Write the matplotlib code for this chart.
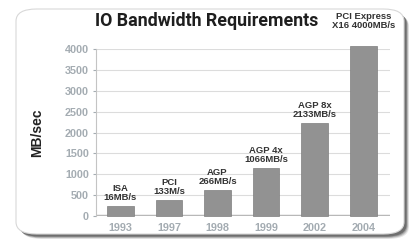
import matplotlib.pyplot as plt
from matplotlib.patches import FancyBboxPatch

# Data
years = ["1993", "1997", "1998", "1999", "2002", "2004"]
bar_heights = [240, 380, 620, 1150, 2220, 4080]
bar_labels = ["ISA\n16MB/s", "PCI\n133M/s", "AGP\n266MB/s",
              "AGP 4x\n1066MB/s", "AGP 8x\n2133MB/s", "PCI Express\nX16 4000MB/s"]
yticks = [0, 500, 1000, 1500, 2000, 2500, 3000, 3500, 4000]

W, H = 414, 243
fig = plt.figure(figsize=(W / 100, H / 100), dpi=100)
fig.patch.set_facecolor("white")

# card with soft shadow
for i, a in enumerate([0.10, 0.16, 0.24, 0.35]):
    off = 4 - i * 0.8
    sh = FancyBboxPatch((17 / W + off / W, 8 / H - off / H), 388 / W, 225 / H,
                        boxstyle="round,pad=0,rounding_size=0.05",
                        transform=fig.transFigure, facecolor="#1a1a1a",
                        edgecolor="none", alpha=a, zorder=0)
    fig.patches.append(sh)
card = FancyBboxPatch((16 / W, 9 / H), 388 / W, 225 / H,
                      boxstyle="round,pad=0,rounding_size=0.05",
                      transform=fig.transFigure, facecolor="white",
                      edgecolor="#d8d8d8", linewidth=0.8, zorder=1)
fig.patches.append(card)

ax = fig.add_axes([96 / W, 27 / H, 294 / W, 167 / H])
ax.set_facecolor("none")
ax.set_zorder(2)

x = list(range(len(years)))
ax.bar(x, bar_heights, width=0.55, color="#929292", edgecolor="#7e7e7e",
       linewidth=0.5, zorder=3, clip_on=False)

lab_font = ["Liberation Sans", "DejaVu Sans"]
for xi, h, lab in zip(x, bar_heights, bar_labels):
    dy = 11 if xi == len(years) - 1 else 3
    ax.annotate(lab, (xi, h), xytext=(0, dy), textcoords="offset points",
                ha="center", va="bottom", fontsize=6.8, fontweight="bold",
                color="#333333", linespacing=1.0, annotation_clip=False,
                family=lab_font)

ax.set_xlim(-0.5, 5.55)
ax.set_ylim(0, 4000)
ax.set_yticks(yticks)
ax.set_xticks(x)
ax.set_xticklabels(years)
ax.grid(axis="y", color="#dcdcdc", linewidth=0.8, zorder=1)
ax.axhline(0, color="#b8b8b8", linewidth=2.5, zorder=2)

for s in ["top", "right", "bottom"]:
    ax.spines[s].set_visible(False)
ax.spines["left"].set_color("#c4c4c4")
ax.tick_params(axis="y", colors="#a4acb2", labelsize=7.8, length=2, pad=3)
ax.tick_params(axis="x", colors="#a4acb2", labelsize=7.8, length=0, pad=5)
for t in ax.get_xticklabels() + ax.get_yticklabels():
    t.set_fontweight("bold")
    t.set_family(lab_font)

ax.set_ylabel("MB/sec", fontsize=10, fontweight="bold", color="#222222",
              labelpad=15, family=lab_font)

fig.text(207 / W, 1 - 21 / H, "IO Bandwidth Requirements", ha="center", va="center",
         fontsize=12.8, fontweight="bold", color="#1e1e1e",
         family=["Roboto", "DejaVu Sans"], zorder=3)

fig.savefig("out.png", dpi=100)
